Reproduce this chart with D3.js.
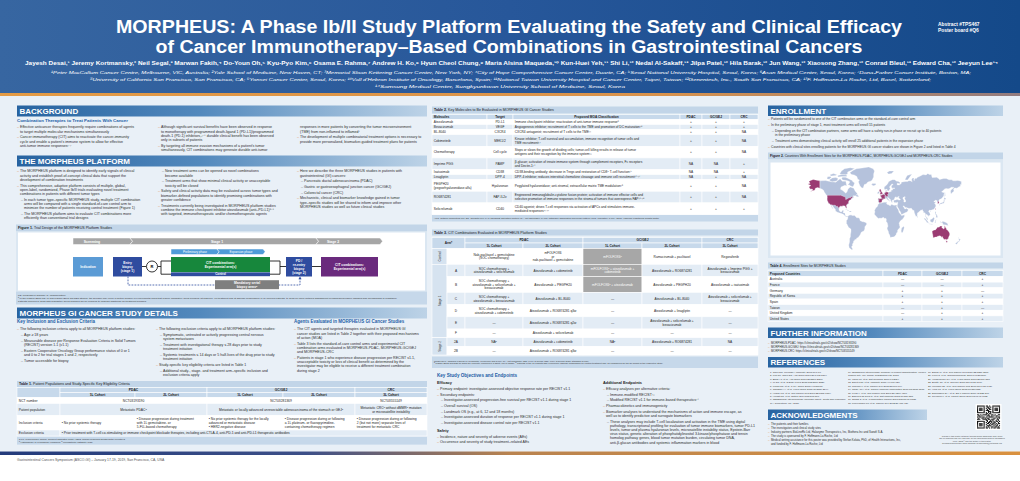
<!DOCTYPE html>
<html><head><meta charset="utf-8">
<script src="https://cdn.jsdelivr.net/npm/d3@7/dist/d3.min.js"></script>
<style>
html,body{margin:0;padding:0;background:#fff;overflow:hidden}
svg{display:block;font-family:"Liberation Sans",Arial,"DejaVu Sans",sans-serif}
</style></head><body><div id="poster"></div>
<script>
// ===================== DATA =====================
const titleLines = ["MORPHEUS: A Phase Ib/II Study Platform Evaluating the Safety and Clinical Efficacy",
  "of Cancer Immunotherapy–Based Combinations in Gastrointestinal Cancers"];
const authors = "Jayesh Desai,¹ Jeremy Kortmansky,² Neil Segal,³ Marwan Fakih,⁴ Do-Youn Oh,⁵ Kyu-Pyo Kim,⁶ Osama E. Rahma,⁷ Andrew H. Ko,⁸ Hyun Cheol Chung,⁹ Maria Alsina Maqueda,¹⁰ Kun-Huei Yeh,¹¹ Shi Li,¹² Nedal Al-Sakaff,¹³ Jilpa Patel,¹² Hila Barak,¹² Jun Wang,¹² Xiaosong Zhang,¹² Conrad Bleul,¹³ Edward Cha,¹² Jeeyun Lee¹⁴";
const affiliations = [
  "¹Peter MacCallum Cancer Centre, Melbourne, VIC, Australia; ²Yale School of Medicine, New Haven, CT; ³Memorial Sloan Kettering Cancer Center, New York, NY; ⁴City of Hope Comprehensive Cancer Center, Duarte, CA; ⁵Seoul National University Hospital, Seoul, Korea; ⁶Asan Medical Center, Seoul, Korea; ⁷Dana-Farber Cancer Institute, Boston, MA;",
  "⁸University of California San Francisco, San Francisco, CA; ⁹Yonsei Cancer Center, Seoul, Korea; ¹⁰Vall d'Hebron Institute of Oncology, Barcelona, Spain; ¹¹National Taiwan University Hospital and Cancer Center, Taipei, Taiwan; ¹²Genentech, Inc., South San Francisco, CA; ¹³F. Hoffmann-La Roche, Ltd, Basel, Switzerland;",
  "¹⁴Samsung Medical Center, Sungkyunkwan University School of Medicine, Seoul, Korea"];
const abstractInfo = ["Abstract #TPS467", "Poster board #Q6"];
const footerText = "Gastrointestinal Cancers Symposium (ASCO-GI) – January 17-19, 2019, San Francisco, CA, USA";

const sectionTitles = ["BACKGROUND","THE MORPHEUS PLATFORM","MORPHEUS GI CANCER STUDY DETAILS","ENROLLMENT","FURTHER INFORMATION","REFERENCES","ACKNOWLEDGMENTS"];
const subHeads = ["Combination Therapies to Treat Patients With Cancer","Key Inclusion and Exclusion Criteria","Agents Evaluated in MORPHEUS GI Cancer Studies","Key Study Objectives and Endpoints"];

const backgroundCols = [
 ["- Effective anticancer therapies frequently require combinations of agents",
  "  to target multiple molecular mechanisms simultaneously",
  "- Cancer immunotherapy (CIT) aims to reactivate the cancer-immunity",
  "  cycle and enable a patient's immune system to allow for effective",
  "  anti-tumor immune responses¹·²"],
 ["- Although significant survival benefits have been observed in response",
  "  to monotherapy with programmed death-ligand 1 (PD-L1)/programmed",
  "  death-1 (PD-1) inhibitors,³⁻⁶ durable clinical benefit has been observed",
  "  only in subsets of patients",
  "- By targeting all immune evasion mechanisms of a patient's tumor",
  "  simultaneously, CIT combinations may generate durable anti-tumor"],
 ["  responses in more patients by converting the tumor microenvironment",
  "  (TME) from non-inflamed to inflamed⁷",
  "- The development of multiple combinatorial treatment options is necessary to",
  "  provide more personalized, biomarker-guided treatment plans for patients"]];

const platformCols = [
 ["- The MORPHEUS platform is designed to identify early signals of clinical",
  "  activity and establish proof-of-concept clinical data that support the",
  "  development of combination treatments",
  "- This comprehensive, adaptive platform consists of multiple, global,",
  "  open-label, randomized, Phase Ib/II trials evaluating novel treatment",
  "  combinations in patients with different tumor types",
  "  - In each tumor type–specific MORPHEUS study, multiple CIT combination",
  "    arms will be compared with a single standard-of-care control arm to",
  "    minimize the number of patients receiving control treatment (Figure 1)",
  "  - The MORPHEUS platform aims to evaluate CIT combinations more",
  "    efficiently than conventional trial designs"],
 ["  - New treatment arms can be opened as novel combinations",
  "    become available",
  "  - Treatment arms that show minimal clinical activity or unacceptable",
  "    toxicity will be closed",
  "- Safety and clinical activity data may be evaluated across tumor types and",
  "  biomarker-defined populations to identify promising combinations with",
  "  greater confidence",
  "- Treatments currently being investigated in MORPHEUS platform studies",
  "  combine the immune checkpoint inhibitor atezolizumab (anti–PD-L1)⁸·⁹",
  "  with targeted, immunotherapeutic and/or chemotherapeutic agents"],
 ["- Here we describe the three MORPHEUS studies in patients with",
  "  gastrointestinal (GI) cancers:",
  "  - Pancreatic ductal adenocarcinoma (PDAC)",
  "  - Gastric or gastroesophageal junction cancer (GC/GEJ)",
  "  - Colorectal cancer (CRC)",
  "- Mechanistic, clinical and biomarker knowledge gained in tumor",
  "  type–specific studies will be shared to inform and improve other",
  "  MORPHEUS studies as well as future clinical studies"]];

const giCols = [
 ["- The following inclusion criteria apply to all MORPHEUS platform studies:",
  "  - Age ≥ 18 years",
  "  - Measurable disease per Response Evaluation Criteria in Solid Tumors",
  "    (RECIST) version 1.1 (v1.1)",
  "  - Eastern Cooperative Oncology Group performance status of 0 or 1",
  "    and 0 to 2 for trial stages 1 and 2, respectively",
  "  - Tumor accessible for biopsy"],
 ["- The following exclusion criteria apply to all MORPHEUS platform studies:",
  "  - Symptomatic, untreated or actively progressing central nervous",
  "    system metastases",
  "  - Treatment with investigational therapy ≤ 28 days prior to study",
  "    treatment initiation",
  "  - Systemic treatments ≤ 14 days or 5 half-lives of the drug prior to study",
  "    treatment initiation",
  "- Study-specific key eligibility criteria are listed in Table 1",
  "  - Additional study-, stage- and treatment arm–specific inclusion and",
  "    exclusion criteria apply"],
 ["- The CIT agents and targeted therapies evaluated in MORPHEUS GI",
  "  cancer studies are listed in Table 2 together with their proposed mechanisms",
  "  of action (MOA)",
  "- Table 3 lists the standard-of-care control arms and experimental CIT",
  "  combination arms evaluated in MORPHEUS-PDAC, MORPHEUS-GC/GEJ",
  "  and MORPHEUS-CRC",
  "- Patients in stage 1 who experience disease progression per RECIST v1.1,",
  "  unacceptable toxicity or loss of clinical benefit as determined by the",
  "  investigator may be eligible to receive a different treatment combination",
  "  during stage 2"]];

const objectivesLeft = [
  "*Efficacy",
  "- Primary endpoint: investigator-assessed objective response rate per RECIST v1.1",
  "- Secondary endpoints:",
  "  - Investigator-assessed progression-free survival per RECIST v1.1 during stage 1",
  "  - Overall survival (OS)",
  "  - Landmark OS (e.g., at 6, 12 and 18 months)",
  "  - Investigator-assessed duration of response per RECIST v1.1 during stage 1",
  "  - Investigator-assessed disease control rate per RECIST v1.1",
  "*Safety",
  "- Incidence, nature and severity of adverse events (AEs)",
  "- Occurrence and severity of study treatment–related AEs"];
const objectivesRight = [
  "*Additional Endpoints",
  "- Efficacy analyses per alternative criteria:",
  "  - Immune-modified RECIST²³",
  "  - Modified RECIST v1.1 for immune-based therapeutics²⁴",
  "- Pharmacokinetics and immunogenicity",
  "- Biomarker analyses to understand the mechanisms of action and immune escape, as",
  "  well as to identify predictive and surrogate biomarkers",
  "  - These analyses may include T-cell localization and activation in the TME using digital",
  "    pathology, transcriptional profiling for evaluation of tumor immune biomarkers, tumor PD-L1",
  "    levels, tumor and plasma hyaluronan levels, microsatellite instability status, Epstein-Barr",
  "    virus status, genetic alteration of phosphatidylinositol 3-kinase/phosphatase and tensin",
  "    homolog pathway genes, blood tumor mutation burden, circulating tumor DNA,",
  "    anti-β-glucan antibodies and systemic inflammation markers in blood"];

const enrollmentText = [
  "- Patients will be randomized to one of the CIT combination arms or the standard-of-care control arm",
  "- In the preliminary phase of stage 1, most treatment arms will enroll 15 patients",
  "  - Depending on the CIT combination partners, some arms will have a safety run-in phase or recruit up to 40 patients",
  "    in the preliminary phase",
  "  - Treatment arms demonstrating clinical activity will enroll 25 additional patients in the expansion phase",
  "- Countries with clinical sites enrolling patients for the MORPHEUS GI cancer studies are shown in Figure 2 and listed in Table 4"];
const furtherInfo = [
  "- MORPHEUS-PDAC: https://clinicaltrials.gov/ct2/show/NCT03193190",
  "- MORPHEUS-GC/GEJ: https://clinicaltrials.gov/ct2/show/NCT03281369",
  "- MORPHEUS-CRC: https://clinicaltrials.gov/ct2/show/NCT03555149"];
const references = [
 ["1.  Chen DS, Mellman I. Immunity 2013;39:1-10.",
  "2.  Kim JM, Chen DS. Ann Oncol 2016;27:1492-1504.",
  "3.  Bang YJ, et al. Ann Oncol 2017;28:2206-2213.",
  "4.  Le DT, et al. N Engl J Med 2015;372:2509-2520.",
  "5.  Fuchs CS, et al. JAMA Oncol 2018;4:e180013.",
  "6.  Janjigian YY, et al. J Clin Oncol 2018;36:2836-2844.",
  "7.  Hegde PS, et al. Clin Cancer Res 2016;22:1865-1874.",
  "8.  Herbst RS, et al. Nature 2014;515:563-567.",
  "9.  TECENTRIQ (atezolizumab) [package insert]. South San Francisco,",
  "     CA: Genentech, Inc.; 2018."],
 ["10. TECENTRIQ (atezolizumab) [summary of product characteristics]. Welwyn",
  "      Garden City, UK: Roche Registration Ltd; 2018.",
  "11. Wallin JJ, et al. Nat Commun 2016;7:12624.",
  "12. Ebert PJR, et al. Immunity 2016;44:609-621.",
  "13. Galluzzi L, et al. Cancer Cell 2015;28:690-714.",
  "14. Chan ASH, et al. Cancer Immunol Immunother 2016;65:1505-1518.",
  "15. Feng X, et al. Clin Cancer Res 2017;23:4290-4300.",
  "16. Barreira da Silva R, et al. Nat Immunol 2015;16:850-858.",
  "17. Zhang Z, et al. J Immunother Cancer 2017;5(suppl 2):P385.",
  "18. Provenzano PP, et al. Cancer Cell 2012;21:418-429."],
 ["19. Bacac M, et al. Clin Cancer Res 2016;22:3286-3297.",
  "20. Klein C, et al. Oncoimmunology 2017;6:e1277306.",
  "21. Vonderheide RH, et al. J Clin Oncol 2007;25:876-883.",
  "22. Beatty GL, et al. Science 2011;331:1612-1616.",
  "23. Wolchok JD, et al. Clin Cancer Res 2009;15:7412-7420.",
  "24. Hodi FS, et al. J Clin Oncol 2018;36:850-858.",
  "25. Eisenhauer EA, et al. Eur J Cancer 2009;45:228-247.",
  "26. Seymour L, et al. Lancet Oncol 2017;18:e143-e152."]];
const acknowledgments = [
  "- The patients and their families",
  "- The investigators and clinical study sites",
  "- Industry partners BioLineRx Ltd, Halozyme Therapeutics, Inc, Biothera Inc and Sanofi S.A.",
  "- The study is sponsored by F. Hoffmann-La Roche, Ltd",
  "- Medical writing assistance for this poster was provided by Stefan Kolata, PhD, of Health Interactions, Inc,",
  "  and funded by F. Hoffmann-La Roche, Ltd"];
const qrNote = ["Copies of this poster obtained through Quick Response (QR) Code",
  "are for personal use only and may not be reproduced without permission",
  "from ASCO® and the author of this poster.",
  "Corresponding author email address: jayesh.desai@petermac.org"];

// Figure 1
const fig1Title = ["Figure 1.", " Trial Design of the MORPHEUS Platform Studies"];
const fig1Stages = ["Screening","Stage 1","Stage 2"];
const fig1Phases = ["Preliminary phase","Expansion phase"];
const fig1Boxes = [["Indication"],["Entry","biopsy","(stage 1)"],["CIT combinations:","Experimental arm(s)"],["Control"],["PD /","re-entry","biopsy","(stage 2)"],["CIT combinations:","Experimental arm(s)"],["Mandatory serial","biopsy armsᵃ"]];
const fig1Notes = ["PD, progressive disease; R, randomization.",
  "ᵃ In the MORPHEUS-PDAC and MORPHEUS-GC/GEJ studies, the sponsor may open a limited number of experimental arms that require mandatory serial biopsies (at baseline, on treatment and at disease progression) in all enrolled patients, to allow for more detailed assessment of pharmacodynamic changes and mechanisms of resistance.",
  "Patients enrolled in arms with mandatory serial biopsies will be required to undergo additional on-treatment biopsies."];

// Table 1
const t1Title = ["Table 1.", " Patient Populations and Study-Specific Key Eligibility Criteria"];
const t1Groups = ["PDAC","GC/GEJ","CRC"];
const t1Cohorts = ["1L Cohort","2L Cohort","1L Cohort","2L Cohort","3L Cohort"];
const t1RowLabels = ["NCT number","Patient population","Inclusion criteria","Exclusion criteria"];
const t1NCT = ["NCT03193190","NCT03281369","NCT03555149"];
const t1Population = [["Metastatic PDACᵃ"],["Metastatic or locally advanced unresectable adenocarcinoma of the stomach or GEJᵃ"],["Metastatic CRCᵃ without dMMRᵇ mutation","or microsatellite instability"]];
const t1Inclusion = [["• No prior systemic therapy"],
  ["• Disease progression during treatment","   with 1L gemcitabine- or","   5-FU–based chemotherapy"],
  ["• No prior systemic therapy for the locally","   advanced or metastatic disease","• HER2-negative disease"],
  ["• Disease progression during or following","   a 1L platinum- or fluoropyrimidine-","   containing chemotherapy regimen"],
  ["• Disease progression during or following","   2 (but not more) separate lines of","   treatment for metastatic CRC"]];
const t1Exclusion = ["• Prior treatment with T-cell co-stimulating or immune checkpoint blockade therapies, including anti-CTLA-4, anti-PD-1 and anti-PD-L1 therapeutic antibodies"];
const t1Notes = ["5-FU, 5-fluorouracil; dMMR, deficient mismatch repair; HER2, human epidermal growth factor receptor 2.","ᵃ Histologically or cytologically confirmed. ᵇ Microsatellite instability–high."];

// Table 2
const t2Title = ["Table 2.", " Key Molecules to Be Evaluated in MORPHEUS GI Cancer Studies"];
const t2Headers = ["Molecules","Target","Proposed MOA Classification","PDAC","GC/GEJ","CRC"];
const t2Molecules = [["Atezolizumab"],["Bevacizumab"],["BL-8040"],["Cobimetinib"],["Chemotherapy"],["Imprime PGG"],["Isatuximab"],["Linagliptin"],["PEGPH20","(pegvorhyaluronidase alfa)"],["RO6874281"],["Selicrelumab"]];
const t2Targets = ["PD-L1","VEGF","CXCR4","MEK1/2","Cell cycle","PAMP","CD38","DPP-4","Hyaluronan","FAP-IL2v","CD40"];
const t2MOA = [
  ["Immune checkpoint inhibitor; reactivation of anti-tumor immune response⁸"],
  ["Angiogenesis inhibitor; recruitment of T cells to the TME and promotion of DC maturation¹⁰"],
  ["CXCR4 antagonist; recruitment of T cells to the TME¹¹"],
  ["Kinase inhibitor; T-cell survival and accumulation, immune recognition of tumor cells and","TME recruitment¹²"],
  ["Stops or slows the growth of dividing cells; tumor-cell killing results in release of tumor","antigens and their recognition by the immune system¹³"],
  ["β-glucan; activation of innate immune system through complement receptors, Fc receptors","and Dectin-1¹⁴"],
  ["CD38-binding antibody; decrease in Tregs and restoration of CD8⁺ T-cell function¹⁵"],
  ["DPP-4 inhibitor; reduces interstitial chemokine cleavage and immune cell recruitment¹⁶·¹⁷"],
  ["Pegylated hyaluronidase; anti-stromal, extracellular matrix TME modulation¹⁸"],
  ["Engineered immunoglobulin-cytokine fusion protein; activation of immune effector cells and","selective promotion of immune responses in the stroma of tumors that overexpress FAP¹⁹·²⁰"],
  ["CD40 agonist; drives T-cell responses via activation of APCs and stimulates immune-","mediated responses²¹·²²"]];
const t2PDAC = ["+","+","+","+","+","NA","NA","NA","+","+","+"];
const t2GC   = ["+","+","+","+","+","NA","NA","+","+","+","+"];
const t2CRC  = ["+","+","NA","NA","NA","+","+","NA","NA","NA","+"];
const t2Notes = ["APC, antigen-presenting cell; DC, dendritic cell; FAP, fibroblast activation protein; NA, not applicable; PAMP, pathogen-associated molecular pattern; Treg, regulatory T cell; VEGF, vascular endothelial growth factor."];

// Table 3
const t3Title = ["Table 3.", " CIT Combinations Evaluated in MORPHEUS Platform Studies"];
const t3Arms  = ["Control","A","B","C","D","E","F","2A","2B"];
const t3Stage = ["Control","Stage 1","Stage 1","Stage 1","Stage 1","Stage 1","Stage 1","Stage 2","Stage 2"];
const t3PDAC1L = [["Nab-paclitaxel + gemcitabine","(SOC chemotherapy)"],["SOC chemotherapy +","atezolizumab + selicrelumab"],["SOC chemotherapy +","atezolizumab + selicrelumab +","bevacizumab"],["SOC chemotherapy +","atezolizumab + bevacizumab"],["SOC chemotherapy +","atezolizumab + cobimetinib"],["—"],["—"],["NAᵇ"],["—"]];
const t3PDAC2L = [["mFOLFOX6","or","nab-paclitaxel + gemcitabine"],["Atezolizumab + cobimetinib"],["Atezolizumab + PEGPH20"],["Atezolizumab + BL-8040"],["Atezolizumab + RO6874281 q3w"],["Atezolizumab + RO6874281 q2w"],["Atezolizumab + selicrelumab"],["Atezolizumab + cobimetinib"],["Atezolizumab + RO6874281 q3w"]];
const t3GC1L = [["mFOLFOX6ᵃ"],["mFOLFOX6ᵃ + atezolizumab +","cobimetinib"],["mFOLFOX6ᵃ + atezolizumab"],["—"],["—"],["—"],["—"],["NAᵇ"],["—"]];
const t3GC2L = [["Ramucirumab + paclitaxel"],["Atezolizumab + RO6874281"],["Atezolizumab + PEGPH20"],["Atezolizumab + BL-8040"],["Atezolizumab + linagliptin"],["Atezolizumab + selicrelumab +","bevacizumab"],["—"],["Atezolizumab + RO6874281"],["—"]];
const t3CRC3L = [["Regorafenib"],["Atezolizumab + Imprime PGG +","bevacizumab"],["Atezolizumab + isatuximab"],["Atezolizumab + selicrelumab +","bevacizumab"],["—"],["—"],["—"],["NA"],["—"]];
const t3Notes = ["mFOLFOX6, modified FOLFOX6 (oxaliplatin, leucovorin and 5-FU); NA, not applicable; q2w, every 2 weeks; q3w, every 3 weeks; SOC, standard of care.",
  "ᵃ MORPHEUS-GC/GEJ 1L arms are currently enrolling in a safety run-in phase. ᵇ Patients in the 1L cohorts who experience disease progression on control treatment may be considered for the 2L cohort of the respective study."];

// Table 4 (countries with enrollment sites)
const t4Title = ["Table 4.", " Enrollment Sites for MORPHEUS Studies"];
const t4Headers = ["Proposed Countries","PDAC","GC/GEJ","CRC"];
const t4Countries = ["Australia","France","Germany","Republic of Korea","Spain","Taiwan","United Kingdom","United States"];
const t4PDAC = ["—","—","+","+","+","—","—","+"];
const t4GC   = ["—","—","+","+","+","+","+","+"];
const t4CRC  = ["+","+","—","+","+","—","+","+"];
const fig2Title = ["Figure 2.", " Countries With Enrollment Sites for the MORPHEUS-PDAC, MORPHEUS-GC/GEJ and MORPHEUS-CRC Studies"];

// Simplified land outlines [lon,lat,...]
const landShapes = [
 {country:"Canada/Mexico", pts:[-141,69.6,-128,70,-115,68.5,-105,68,-95,72,-90,69,-82,69,-80,63,-84,64,-93,61.5,-94,58.5,-89,56.5,-82,52.5,-79,55,-77,59,-72,61.5,-64,60,-61,56,-56,52,-59,48,-65,48.5,-64,45.5,-66,44.5,-70,42,-74,40.5,-76,37,-75.5,35,-81,31,-80,26,-81.5,25,-83,29,-85,30,-89,30,-94,29.5,-97,27.5,-97.5,22,-95,18.5,-91,18.5,-90.5,21,-87,21.5,-88,16,-84,15.8,-83.5,11,-81.5,8.8,-78,9.3,-77.5,7.5,-80,7.5,-84,9.5,-86,11.5,-88,13.2,-92,14.5,-96,15.7,-101,17.2,-105.5,20,-105.5,23,-109.5,27,-112.5,31,-114.5,31,-110.5,24,-109.5,23,-112,25,-115,28.5,-114.5,30,-117,32.5,-120.5,34.5,-122.5,37.5,-124,40.5,-124.5,43,-124,48,-127,50.5,-130.5,54,-133,57.5,-137,59,-141,60]},
 {country:"United States", pts:[-141,69.6,-148,70.3,-156,71.3,-162,70,-166,68.8,-163,66.5,-168,65.6,-164,64.5,-161,63.5,-165,62.5,-165,60.5,-162,58.6,-158,58.7,-157,57,-163,55,-158,56,-152,57.5,-151,60,-146,60.8,-141,60]},
 {country:"United States", pts:[-124.7,48.4,-123,49,-95,49,-95,49.4,-89.5,48,-84.8,46.5,-82.5,45.3,-82.5,42,-79,42.8,-79,43.3,-76.5,44,-75,45,-71.5,45,-70,46.8,-67.8,47.1,-67,44.8,-70,43.7,-70.6,41.7,-74,40.5,-76,38,-76,36.9,-75.5,35.2,-77,34.6,-81,31.6,-80,26.7,-80.4,25.2,-81.7,25.9,-82.8,28.2,-84.3,30,-86.5,30.4,-89.6,30.2,-90,29.1,-93.7,29.7,-97,28,-97.2,25.9,-99.2,26.5,-101.4,29.8,-103.2,29,-104.7,29.9,-106.5,31.8,-108.2,31.3,-111,31.3,-114.8,32.5,-117.1,32.5,-118.5,34,-120.6,34.6,-121.9,36.6,-122.5,37.8,-124,40.3,-124.4,42.8,-124,46.2]},
 {country:"Greenland", pts:[-73,78.3,-66,80.5,-58,82,-45,82.7,-30,83.6,-20,82,-17,80,-19,77,-19,74,-22,71,-24.5,69.5,-32,68.2,-36,65.8,-40,65,-43,60,-47,61,-50,63.5,-52,66,-53.5,68.5,-51,70.5,-55,71.5,-57,74.5,-63,76.2,-69,76.5]},
 {country:"Canada", pts:[-62,66.8,-64.5,63.5,-66,62,-71,63,-74,64.5,-77.5,64.5,-74,67,-73,68.5,-76.5,69.5,-80,70,-89,70.5,-91.5,72,-90,73.7,-83,73.7,-78,72.7,-71.5,71,-68,70.2,-67,69]},
 {country:"Canada", pts:[-90,76.5,-96,77,-92,80,-85,82,-72,83,-62,82.2,-70,80.5,-78,79,-78,77.2,-82,76.3]},
 {country:"Canada", pts:[-119,71,-113,73,-105,73.3,-100,72.5,-101,70,-106,69,-113,68.5,-118,69.3]},
 {country:"Canada", pts:[-125,72,-123.5,74.3,-117,74.5,-115,73.4,-120,71.4]},
 {country:"Canada", pts:[-100,74,-91,74.5,-80,74.5,-80,76,-91,76.7,-100,75.5]},
 {country:"Canada", pts:[-116,75,-105,75.5,-102,76.3,-110,77.5,-118,76.3]},
 {country:"Canada", pts:[-59,47.6,-55.7,46.9,-53,46.7,-52.8,48,-55.8,49.7,-55.4,51.5,-57.3,50.7,-59.4,48.5]},
 {country:"Cuba", pts:[-85,21.8,-82,23.1,-80,23,-77,21.5,-74.2,20.2,-77.5,19.9,-78.5,21.4,-81.5,22.2]},
 {country:"Hispaniola", pts:[-74.4,19.8,-71.5,19.9,-68.4,18.6,-71.3,17.7,-74.4,18.4]},
 {country:"South America", pts:[-77.3,8.5,-75.5,10.6,-72,11.9,-71.3,11.1,-70,12.2,-68.1,10.5,-64,10.6,-61.7,10.5,-60,8.5,-57.5,6,-53,5.6,-51,4,-50,1.8,-49.8,-0.2,-48,-0.8,-44,-2.4,-41.7,-2.9,-38.5,-3.7,-35,-5.5,-35,-8.5,-37,-11,-38.9,-13.4,-39,-17.6,-40,-20,-41,-22,-44,-23,-47.5,-24.8,-48.7,-28.2,-50.7,-31,-53,-33.8,-55,-35,-57.5,-35.5,-57.3,-37.5,-62,-38.9,-62.3,-40.6,-65,-41,-64,-42.5,-65.5,-45,-67.6,-46.5,-66,-47.8,-69,-50.7,-68.3,-52.3,-66,-54.8,-69,-55.4,-71.5,-54,-74.5,-52.5,-75.5,-48,-74,-44,-73.5,-41,-73.6,-37,-71.6,-33,-71.5,-29,-70.4,-23.5,-70.2,-18.5,-72,-17,-76,-14.3,-78,-10.5,-79.5,-7.5,-81.2,-5.6,-80.3,-3.5,-80.8,-1,-80,0.8,-78.8,1.4,-77.8,3.8,-77.4,6.5]},
 {country:"Iceland", pts:[-24,65.4,-21.7,66.3,-18,66.2,-14.6,66.4,-13.6,65.1,-14.9,64.4,-18.7,63.4,-22.8,63.9,-21.8,64.4,-24,64.9]},
 {country:"Ireland", pts:[-10,51.6,-6.4,52.2,-6,53.9,-7.3,55.2,-8.5,54.9,-10,54.2,-9.9,53.3,-10.5,52.1]},
 {country:"Eurasia", pts:[-9,38.8,-9.4,43,-8,43.7,-1.8,43.4,-1.2,46,-2.3,47.2,-4.6,48,-1.5,49.7,1.6,50.3,3.5,51.3,4.8,53,7,53.5,8.7,53.9,8.3,55.6,8.1,57,10.5,57.6,10.6,56.4,9.8,55,11,54,14,54,18,54.7,21,55.2,21,56.8,21.8,57.5,24.3,57.2,23.5,59.2,28,59.5,29.5,60.1,26.5,60.4,22.8,60,21.5,61.5,21.2,63,24,64.5,25.3,65.3,22.2,65.8,21.2,64.8,19,63.5,17.5,62.2,17.2,61,18.8,60,16.5,57,14.5,56,12.8,55.5,12.5,56.5,11,58.8,8.5,58.2,6,58.2,5,59.5,5.2,61.5,7,62.8,10.5,64.4,12.8,66,15,68.5,18.5,69.8,23.8,71,28.5,71,31,70,33.3,69.2,36.5,69,41,67.5,40.5,66,35,66.5,33.8,66,35,64.4,37.5,64.5,40,64.6,44,66.5,43.8,68.3,46,68.2,53.5,68.8,58,68.9,61,69.8,66,69.4,68.5,68.2,67,71,69,72.8,72.6,72.8,72,71.2,73,69.7,73.6,71.5,75,72.6,78,72.2,80.5,73.6,87,75,93,76.5,100,76.2,104,77.7,107,76.7,112,76.5,113.5,73.5,118,73.5,124,73.6,129,72,131,70.8,133,71.5,140,72.4,146,72.3,152,70.8,159,70.8,160.5,69.7,167,69.6,170.6,70.1,175,69.8,180,68.9,180,65.1,177,64.6,178.6,62.9,173.7,61.7,170,60,166,60.2,163.5,59.8,162,58,163.2,56.2,162,54.8,160.5,53.8,158.5,53,156.5,51,155.8,53.5,155.5,55.9,156.8,57.8,158.3,58,161.8,60.4,163.7,61.1,160.1,61.3,156.7,61.4,154.2,59.8,151,59.1,148.5,59.3,145.5,59.4,142.2,59,138,56.3,135.1,54.7,137,54,138.9,53.8,141.4,52.2,140.6,51.2,140.1,48.4,138.2,46.3,135.1,43.5,133.1,42.8,131,42.6,129.7,40.9,129.3,40,128,39,129.4,37,129.4,35.5,127.5,34.6,126.4,34.4,126.5,36,126.2,37.5,125.3,37.7,124.7,38.1,125.2,39.5,124.3,40,122,40.5,121.4,39,121.7,40.8,120,40,119,39.2,118,39.2,117.5,38.6,118.8,37.5,119.7,37.2,120.8,37.8,122.5,37.4,121,36.6,119.7,35.6,119.2,34.9,120.6,33.4,121.9,31.7,121.9,30.9,122,29.8,121.5,28.5,120.4,27,119.6,25.8,118.7,24.6,116.5,23,113.8,22.5,112.9,21.9,111,21.5,110.2,20.1,109.9,21.4,108.5,21.7,106.7,20.7,105.9,19.8,105.7,19.1,106.4,18,107.4,16.7,108.3,15.8,109.2,13.4,109.2,11.7,108.4,11,107.2,10.4,106.4,9.5,105.2,8.6,104.8,9.7,105,10.5,103.5,10.6,102.6,12.2,100.8,12.6,100.1,13.4,99.2,11.3,99.6,9.3,100.5,7.4,101.6,6.7,103.4,4.8,103.5,2.8,104.2,1.4,103.5,1.2,101.4,2.8,100.1,6.5,98.5,8.4,98.3,10.5,98.6,13.3,97.6,16.5,96.5,16.4,95.4,15.7,94.2,16,94.4,18.2,93.5,19.4,92.4,20.7,92,22,91.4,22.8,90.3,21.8,88.9,21.6,88.1,22,86.5,20,85,19.5,82.2,16.6,80.3,15.9,79.9,10.3,78.9,9.6,77.5,8,76.6,8.9,75.7,11.3,74.9,12.7,74.1,14.8,73.5,16,72.8,19.2,72.6,21.4,70.5,20.9,69.2,22.1,68.2,23.7,66.4,25.4,64.5,25.2,61.5,25.1,57.4,25.7,56.5,27.1,54.7,26.5,51.5,27.9,50.1,30.1,48,30,48.6,28,50.1,26.7,50.8,24.8,51.6,24.2,54,24.1,56,26.1,56.4,24.9,57.4,23.9,59.8,22.3,58.7,20.4,57.7,19,55.3,17.2,52.4,16.4,49.1,14.6,45.6,13.3,43.5,12.6,42.6,16.8,40.9,19.5,39.1,21.3,38.5,23.7,36.9,25.6,35.1,28.1,34.6,28.1,34.9,29.5,34.3,31.2,34.6,32,35.5,33.9,35.9,35.4,36,36.6,34.7,36.8,32.5,36.1,30.6,36.7,29.7,36.1,27.6,36.7,27,37.7,26.3,38.2,26.8,39.5,26.2,40,26.4,40.2,29.2,41.2,31.1,41.1,33.5,42,35.2,42,38.3,40.9,40.4,41,41.6,41.5,41.5,42.6,40,43.4,38.7,44.3,37.5,44.7,38.2,46.2,39.1,47.3,37.4,47,35,46.3,35,45.7,33.9,44.4,32.5,45.3,33.6,45.9,31.7,46.3,30.7,46.6,29.6,45.3,28.8,44.9,28.6,43.7,28,42.9,28,42,26.1,41.3,26.1,40.6,24.4,40.9,23.7,40.7,24,40,22.6,40.3,22.8,39.7,23.3,39.2,22.9,38,23.5,38,24,37.6,23.1,36.4,22.5,36.4,21.7,36.8,21.1,37.8,21.1,38.3,20.2,39.3,19.4,40.3,19.5,41.7,18.5,42.5,17.5,43,16,43.5,15.2,44.2,14.9,45.1,13.7,45.1,13.7,45.7,12.6,45.5,12.3,44.6,13.5,43.6,14,42.8,15.1,42,16.1,41.7,16.4,41.2,18.4,40.2,18.3,39.8,17.2,40.4,16.7,39.9,17.1,39,16.6,38.8,16.1,38,15.7,37.9,15.8,38.8,16.1,39.5,15.4,40,15,40.2,14,40.8,12.6,41.4,11.2,42.4,10.2,43.9,8.9,44.4,7.9,43.8,6.5,43.1,4.6,43.4,3.1,43.1,3,41.9,2.1,41.2,0.8,41,0.7,40.7,0,40,-0.3,39.3,0.1,38.7,-0.7,37.6,-1.4,37.4,-2.1,36.7,-4.4,36.7,-5.4,35.9,-6.2,36.4,-6.5,36.9,-7.5,37.1,-7.9,36.8,-8.9,36.9,-8.7,38.2]},
 {country:"Caspian Sea", water:true, pts:[46.7,44.6,47.6,45.6,49.1,46.4,51.2,47,53,46.8,53.2,45.3,51.3,45.2,50.9,44.6,52.7,42.4,52.9,41,54,40.8,53.7,39.4,53.9,37.2,51.2,36.8,50,37.4,48.9,38.4,49.2,39.1,49.6,40.2,48.6,41.8,47.5,43]},
 {country:"Africa", pts:[-5.9,35.8,-5.2,35.8,-2,35.1,1.5,36.6,5,36.8,8.4,36.9,10.2,37.2,11.1,36.9,10.3,36.1,11,35.6,10.1,34.3,11.1,33.3,12.7,32.8,15.2,32.3,15.7,31.4,18,30.8,19.1,30.3,20.1,31,20,32.2,21.5,32.8,23,32.6,25,31.6,27.5,31.3,29.7,31.2,31,31.6,32.2,31.3,34.2,31.3,34.9,29.5,34,27.8,33.6,28,32.4,29.9,32.7,28.7,33.9,26.6,35.7,23.9,37.5,22,37.4,20.8,38.4,18,39.3,15.9,40.6,14.6,41.9,13.5,43.3,12.4,43.1,11.5,44.6,10.4,47.7,11.1,51.1,11.9,51,10.6,50.6,8.2,48.6,5.3,46.6,2.9,43.1,0.3,41,-1.8,39.2,-4.7,38.7,-6.5,39.4,-8.1,39.5,-10.9,40.5,-10.8,40.6,-15.4,37.4,-17.6,35.2,-21,35.5,-24.1,32.8,-25.7,32.4,-28.6,30.8,-30.4,27.5,-33.2,25,-33.9,22.6,-33.9,19.6,-34.8,18.2,-33.9,18.4,-32.1,17.1,-29.4,15.3,-26.9,14.4,-22.7,11.8,-18.1,11.7,-16.7,12.2,-14.4,13.6,-12,13.1,-9.8,12.3,-6.1,11.9,-5,9.4,-2,9.8,2.3,9.8,3.1,8.5,4.8,5.9,4.3,4.3,6.3,1.9,6.1,-1.1,5,-3,5,-4.6,5.2,-7.5,4.3,-9,5,-11.4,6.8,-13.2,8.9,-14.8,10.7,-16.6,12.2,-17.2,14.9,-16.1,18.1,-16.3,19.6,-17,21,-15,24.5,-13.9,26.6,-11.4,28.1,-9.8,29.9,-9.3,32.6,-6.9,34.1]},
 {country:"Madagascar", pts:[44,-25,47,-25,50.5,-15.5,49.2,-12,44.5,-16,43.5,-21.5]},
 {country:"Svalbard", pts:[11,78.5,17,80,27,80,22,77.5,15,77]},
 {country:"Russia", pts:[52,71,57,75.5,68,77,58,70.5]},
 {country:"Russia", pts:[142,46,143.5,49,143,54,142,54,142,49]},
 {country:"Japan", pts:[130.9,34,132.5,35.4,136,35.9,139.8,38,140,40.5,141.5,41.3,142,39.5,141,37,140.8,35.6,139.8,35,137,34.5,135,33.5,132,33.7]},
 {country:"Japan", pts:[140,42,141.5,45.4,145.5,43.3,143,42]},
 {country:"Japan", pts:[130,31.5,131.5,31.5,132,33.7,130.5,34]},
 {country:"Sri Lanka", pts:[79.8,8,80,9.8,81.8,7.5,80.5,6]},
 {country:"Hainan", pts:[108.6,19.2,110.3,20.1,111,19.6,109.6,18.2]},
 {country:"Indonesia", pts:[95.3,5.5,98,4,104,-2,106,-6,102,-4,99,0,95.5,3]},
 {country:"Indonesia", pts:[109,1.5,110,-2.5,114,-4,116.5,-2.5,118,1,119,5,117,7,115,5,113,3]},
 {country:"Indonesia", pts:[105.5,-6.8,114.5,-7.5,114.5,-8.7,106,-7.5]},
 {country:"Indonesia", pts:[119.5,-5.5,121,-1,120.5,1,125,1.5,121.5,0.3,123,-1,121,-3,122.5,-5]},
 {country:"New Guinea", pts:[131,-1,135,-3.5,138,-1.5,144,-3.8,148,-6,150.5,-10.5,147,-10,143,-9,141,-9.2,138,-8.3,137.5,-5,133,-4,132,-2.5]},
 {country:"Philippines", pts:[120,18.5,122.5,18.3,122,14,124,12.5,126,9,125.5,6,122,7,123,10,120.5,14.5]},
 {country:"New Zealand", pts:[172.7,-34.4,174.3,-35.3,175.3,-37.2,178,-37.6,177,-39.3,176,-41.3,174.6,-41.3,175,-39.7,173.9,-39.2,174.6,-37.6]},
 {country:"New Zealand", pts:[172.8,-40.5,174.3,-41.7,173.2,-43,171.3,-44.1,170.6,-45.9,169.3,-46.6,166.6,-46.2,166.7,-45.1,168.3,-44.1,170.6,-42.9,171.6,-41.8]},
 {country:"United Kingdom", pts:[-5.7,50.1,-3.4,50.6,-0.8,50.8,1.4,51.2,1.7,52.7,0.3,53.4,-0.4,54.5,-1.5,55.5,-2.1,56,-1.8,57.5,-3.1,58.6,-5,58.6,-5.7,57.6,-6.2,56.8,-5.6,55.3,-4.8,54.9,-3.6,54.6,-3,53.8,-4.6,53.3,-4.4,52.2,-5.3,51.7,-3.4,51.4]},
 {country:"France", pts:[-1.8,43.4,1.4,42.6,3.1,42.4,3.1,43.1,4.6,43.4,6.5,43.1,7.5,43.8,7,44.3,7,45.2,6.8,46,6.1,46.3,7,47.4,7.6,47.6,8.2,48.9,6.7,49.2,6.2,49.5,4.8,50,4.3,49.9,2.5,51.1,1.6,50.9,1.4,50.1,0.2,49.7,-1.2,49.4,-1.9,49.7,-1.9,48.7,-4.6,48.7,-4.3,47.8,-2.2,47.1,-1.2,46,-1.4,44.6]},
 {country:"Spain", pts:[-9.3,43,-8,43.7,-4.3,43.4,-1.8,43.4,-0.5,42.8,1.5,42.6,3.2,42.4,3.2,41.9,0.8,41,0,40,0.1,38.7,-0.7,37.6,-2.1,36.7,-4.4,36.7,-5.4,35.9,-6.5,36.9,-7.5,37.2,-7.4,38.4,-7.1,39.7,-6.9,41,-6.2,41.6,-8.2,41.9,-8.9,42.3]},
 {country:"Germany", pts:[6,51.9,6.7,53.5,8.7,53.9,8.6,55,9.9,54.8,11,54.1,13.4,54.3,14.3,53.7,14.6,52.6,15,51.1,12.2,50.3,13.6,48.9,13,47.5,10.4,47.3,7.6,47.6,8.2,48.9,6.4,49.5,6.1,50.8]},
 {country:"Republic of Korea", pts:[126.4,34.4,127.5,34.6,129.4,35.5,129.4,37,128.4,38.6,127.2,38.3,126.1,37.7,126.5,36]},
 {country:"Taiwan", pts:[120.1,23,120.7,22,121.9,24.6,121.5,25.3,120.4,24.4]},
 {country:"Australia", pts:[113.5,-22,114.1,-26.3,115,-29,115.7,-33.5,115,-34.3,117.9,-35.1,120,-33.9,123.5,-33.9,125.1,-32.7,129,-31.7,131.3,-31.5,134.3,-32.6,135.2,-34.5,137.8,-32.9,137.5,-34.5,138.7,-35.5,139.6,-37.4,141.6,-38.3,144.9,-37.9,146.3,-39,148.3,-37.8,150,-37.5,151,-34.2,153.1,-30.4,153.6,-28.1,153.1,-25.7,150.7,-22.4,149,-20.6,146.4,-19,145.4,-15.8,143.9,-14.5,142.5,-10.7,141.6,-12.8,141.7,-15,140.6,-17.6,139.3,-17.4,137,-15.9,135.5,-14.9,136.9,-12.2,136.3,-11.9,132.6,-11.6,130.9,-12.5,129.4,-14.4,127,-13.8,125.1,-14.7,123.5,-17.3,122.2,-18.2,121.3,-19.7,119,-20,117,-20.6,114.6,-21.8]},
 {country:"Australia", pts:[144.7,-40.7,148.3,-40.9,148,-43.2,146.9,-43.6,145.5,-42.6]}
];

// QR module rows (decorative code)
const qrRows = ["111111101101001111111","100000100110101000001","101110101011001011101","101110100101101011101","101110101110001011101","100000100011101000001","111111101010101111111","000000001101100000000","110101111010011010011","011010000111010101100","101101101001111001011","010011010110000110101","111001111011011100110","000000001100101001010","111111100101110101101","100000101011010110010","101110100110101101011","101110101001011010100","101110100111100101101","100000101010011011010","111111101101010110111"];

// ===================== DRAWING =====================
const W = 1020, H = 481;
const svg = d3.select("#poster").append("svg").attr("width", W).attr("height", H);
const defs = svg.append("defs");
function grad(id, stops) {
  const g = defs.append("linearGradient").attr("id", id).attr("x1", 0).attr("y1", 0).attr("x2", 1).attr("y2", 0);
  stops.forEach(([o, c]) => g.append("stop").attr("offset", o).attr("stop-color", c));
}
grad("hdr", [[0, "#3766a1"], [0.5, "#27579a"], [1, "#144989"]]);
grad("orange", [[0, "#e49b45"], [0.65, "#d8924c"], [1, "#927c80"]]);
grad("sec", [[0, "#2763a0"], [0.45, "#5389bd"], [1, "#bdd3e7"]]);
grad("foot", [[0, "#233b7b"], [0.3, "#3c4f88"], [0.5, "#b9834f"], [1, "#d9913f"]]);

function fit(sel, maxW) {
  sel.each(function () {
    if (maxW > 0 && this.getComputedTextLength() > maxW)
      d3.select(this).attr("textLength", maxW).attr("lengthAdjust", "spacingAndGlyphs");
  });
  return sel;
}
function edges(w, a, b) {
  const c = [0, ...d3.cumsum(w)];
  const s = d3.scaleLinear().domain([0, c[c.length - 1]]).range([a, b]);
  return c.map(s);
}

// backgrounds
svg.append("rect").attr("width", W).attr("height", H).attr("fill", "#ffffff");
svg.append("rect").attr("width", W).attr("height", 93).attr("fill", "url(#hdr)");
svg.append("rect").attr("y", 93).attr("width", W).attr("height", 3).attr("fill", "url(#orange)");
svg.append("rect").attr("y", 96).attr("width", W).attr("height", 355.5).attr("fill", "#e9f0f7");
svg.append("rect").attr("y", 451.5).attr("width", W).attr("height", 3.5).attr("fill", "url(#foot)");

// header
const hdr = svg.append("g").attr("fill", "#fff");
hdr.selectAll("text.title").data(titleLines).join("text").attr("class", "title")
  .attr("x", 509).attr("y", (d, i) => 33.3 + i * 20).attr("text-anchor", "middle")
  .attr("font-size", 18).attr("font-weight", "bold")
  .attr("textLength", (d, i) => [786, 707][i]).attr("lengthAdjust", "spacingAndGlyphs").text(d => d);
hdr.append("text").attr("x", 511.5).attr("y", 65.3).attr("text-anchor", "middle").attr("font-size", 5.1)
  .attr("font-weight", "bold").attr("textLength", 973).attr("lengthAdjust", "spacingAndGlyphs").text(authors);
hdr.selectAll("text.aff").data(affiliations).join("text").attr("class", "aff")
  .attr("x", (d, i) => [511, 510.5, 500][i]).attr("y", (d, i) => 73.6 + i * 7.3).attr("text-anchor", "middle")
  .attr("font-size", 4.3).attr("font-style", "italic")
  .attr("textLength", (d, i) => [920, 841, 250][i]).attr("lengthAdjust", "spacingAndGlyphs").text(d => d);
hdr.selectAll("text.abs").data(abstractInfo).join("text").attr("class", "abs")
  .attr("x", 938).attr("y", (d, i) => 25.5 + i * 6.6).attr("font-size", 4.9).attr("font-weight", "bold").text(d => d);

// footer
svg.append("text").attr("x", 17).attr("y", 461.2).attr("font-size", 3.4).attr("fill", "#555").text(footerText);

// section bars
const secLayout = [[17, 105.5, 410, 11], [17, 155.5, 410, 11], [17, 307.5, 410, 11], [768, 105.5, 235, 10.5], [768, 327.5, 235, 10.5], [768, 357, 235, 10.5], [768, 409.5, 159, 10.5]];
sectionTitles.forEach((label, i) => {
  const [x, y, w, h] = secLayout[i];
  svg.append("rect").attr("x", x).attr("y", y).attr("width", w).attr("height", h).attr("fill", "url(#sec)");
  svg.append("text").attr("x", x + 2.5).attr("y", y + (h + 8 * 0.716) / 2).attr("font-size", 8)
    .attr("font-weight", "bold").attr("fill", "#fff").text(label);
});

// sub headings
const subLayout = [[17, 122.3, 4.4], [17, 323.3, 4.5], [294, 323.3, 4.5], [437, 376.8, 4.6]];
subHeads.forEach((s, i) => {
  const [x, y, fs] = subLayout[i];
  svg.append("text").attr("x", x).attr("y", y).attr("font-size", fs).attr("font-weight", "bold").attr("fill", "#1d5ea6").text(s);
});

// bullet text blocks
function block(x, y, lines, o) {
  const size = o.size || 3.6, lh = o.lh || 4.3, gap = o.gap ?? 1.4, width = o.width || 130, ind = 4, bx = 3;
  const g = svg.append("g");
  let cy = y, first = true;
  lines.forEach(s => {
    const m = s.match(/^( *)(- )?(.*)$/);
    const sp = m[1].length, bul = !!m[2], txt = m[3];
    if (txt.startsWith("*")) {
      if (!first) cy += (o.hgap ?? 3);
      g.append("text").attr("x", x).attr("y", cy).attr("font-size", size * 1.08).attr("font-weight", "bold").attr("fill", "#1a1a1a").text(txt.slice(1));
      cy += lh; first = false; return;
    }
    if (bul && !first) cy += gap;
    const lvl = bul ? sp / 2 : Math.max(0, sp / 2 - 1);
    const tx = (sp === 0 && !bul) ? x : x + lvl * ind + bx;
    if (bul) g.append("text").attr("x", x + lvl * ind).attr("y", cy).attr("font-size", size)
      .attr("fill", lvl === 0 ? "#de8a35" : "#6b6b6b").text("–");
    fit(g.append("text").attr("x", tx).attr("y", cy).attr("font-size", size).attr("fill", "#2b2b2b").text(txt), x + width - tx);
    cy += lh; first = false;
  });
}
const colX = [17, 158, 297];
backgroundCols.forEach((c, i) => block(colX[i], 128.3, c, { width: [128, 132, 130][i] }));
platformCols.forEach((c, i) => block(colX[i], 172.2, c, { width: [128, 132, 130][i] }));
const giX = [17, 156, 294];
giCols.forEach((c, i) => block(giX[i], 330.2, c, { width: [132, 134, 133][i], lh: 4.3, gap: 1.4 }));
block(437, 384.2, objectivesLeft, { width: 160, lh: 4.2, gap: 1.5, hgap: 3.5 });
block(603, 384.2, objectivesRight, { width: 155, lh: 4.2, gap: 1.5 });
block(768, 120.2, enrollmentText, { width: 235, size: 3.3, lh: 4.3, gap: 1.5 });
block(768, 343.5, furtherInfo, { width: 150, size: 2.8, lh: 4, gap: 0 });
block(768, 424.5, acknowledgments, { width: 165, size: 2.8, lh: 4.1, gap: 0 });

// references
const refX = [770, 848, 928], refW = [76, 78, 74];
references.forEach((col, i) => {
  svg.append("g").selectAll("text").data(col).join("text")
    .attr("x", refX[i]).attr("y", (d, j) => 372.8 + j * 3.45).attr("font-size", 2.45).attr("fill", "#333")
    .text(d => d).call(fit, refW[i]);
});

// strips and notes
function strip(x0, x1, y0, y1, parts, size) {
  svg.append("rect").attr("x", x0).attr("y", y0).attr("width", x1 - x0).attr("height", y1 - y0).attr("fill", "#c2d5e8");
  const t = svg.append("text").attr("x", x0 + 2).attr("y", (y0 + y1) / 2 + size * 0.36).attr("font-size", size).attr("fill", "#1c1c1c");
  parts.forEach((s, i) => t.append("tspan").attr("font-weight", i === 0 ? "bold" : null).text(s));
  fit(t, x1 - x0 - 4);
}
function notes(x0, x1, y0, y1, lines, size) {
  svg.append("rect").attr("x", x0).attr("y", y0).attr("width", x1 - x0).attr("height", y1 - y0).attr("fill", "#c6d8ea");
  const lh = size * 1.25, n = lines.length, cy = (y0 + y1) / 2;
  lines.forEach((L, i) => fit(svg.append("text").attr("x", x0 + 2).attr("y", cy + (i - (n - 1) / 2) * lh + size * 0.35)
    .attr("font-size", size).attr("fill", "#333").text(L), x1 - x0 - 4));
}

// table cells
const HDR = "#c7d9eb", LIGHT = "#e3ecf5", WHITE = "#ffffff";
function cells(xe, ye, list, dsize) {
  const g = svg.append("g");
  list.forEach(c => {
    const x0 = xe[c.c0], x1 = xe[c.c1], y0 = ye[c.r0], y1 = ye[c.r1];
    g.append("rect").attr("x", x0).attr("y", y0).attr("width", x1 - x0).attr("height", y1 - y0)
      .attr("fill", c.fill).attr("stroke", "#fff").attr("stroke-width", 0.6);
    const lines = [].concat(c.t || []);
    if (!lines.length) return;
    const size = c.size || dsize, lh = size * 1.22, n = lines.length, cy = (y0 + y1) / 2;
    if (c.rot) {
      g.append("text").attr("transform", `translate(${(x0 + x1) / 2 + size * 0.35},${cy}) rotate(-90)`)
        .attr("text-anchor", "middle").attr("font-size", size).attr("fill", "#333").text(lines[0]);
      return;
    }
    lines.forEach((L, i) => {
      const anchor = c.align || "middle";
      const xx = anchor === "middle" ? (x0 + x1) / 2 : x0 + 1.8;
      fit(g.append("text").attr("x", xx).attr("y", cy + (i - (n - 1) / 2) * lh + size * 0.35)
        .attr("font-size", size).attr("text-anchor", anchor).attr("font-weight", c.bold ? "bold" : null)
        .attr("fill", c.color || "#222").text(L), x1 - x0 - 2.5);
    });
  });
}

// ---- Table 1
strip(17, 427, 381, 387, t1Title, 3.6);
{
  const xe = edges([43, 75, 72, 76, 72, 72], 17, 427);
  const ye = edges([5, 5, 6, 12, 14.5, 6], 387.5, 436);
  const L = [{ c0: 0, c1: 1, r0: 0, r1: 2, fill: HDR }];
  t1Groups.forEach((g, i) => L.push({ c0: [1, 3, 5][i], c1: [3, 5, 6][i], r0: 0, r1: 1, t: g, bold: true, fill: HDR }));
  t1Cohorts.forEach((c, i) => L.push({ c0: i + 1, c1: i + 2, r0: 1, r1: 2, t: c, bold: true, fill: HDR }));
  const rf = r => (r % 2 ? LIGHT : WHITE);
  t1RowLabels.forEach((lab, r) => L.push({ c0: 0, c1: 1, r0: r + 2, r1: r + 3, t: lab, align: "start", fill: rf(r) }));
  t1NCT.forEach((v, i) => L.push({ c0: [1, 3, 5][i], c1: [3, 5, 6][i], r0: 2, r1: 3, t: v, fill: rf(0) }));
  t1Population.forEach((v, i) => L.push({ c0: [1, 3, 5][i], c1: [3, 5, 6][i], r0: 3, r1: 4, t: v, fill: rf(1) }));
  t1Inclusion.forEach((v, i) => L.push({ c0: i + 1, c1: i + 2, r0: 4, r1: 5, t: v, align: "start", fill: rf(2) }));
  L.push({ c0: 1, c1: 6, r0: 5, r1: 6, t: t1Exclusion, align: "start", fill: rf(3) });
  cells(xe, ye, L, 3.3);
}
notes(17, 427, 436.8, 444.6, t1Notes, 2.3);

// ---- Table 2
strip(432, 758, 106.5, 113.5, t2Title, 3.6);
{
  const xe = edges([55, 26, 167, 22, 28, 28], 432, 758);
  const nl = t2Molecules.map((m, i) => Math.max(m.length, t2MOA[i].length));
  const ye = [114.5, ...edges(nl.map(n => (n === 1 ? 5 : 11.5)), 119.5, 214.5)];
  const L = t2Headers.map((h, i) => ({ c0: i, c1: i + 1, r0: 0, r1: 1, t: h, bold: true, fill: HDR, align: i === 0 ? "start" : "middle" }));
  t2Molecules.forEach((m, i) => {
    const f = i % 2 ? LIGHT : WHITE, r0 = i + 1, r1 = i + 2;
    L.push({ c0: 0, c1: 1, r0, r1, t: m, align: "start", fill: f });
    L.push({ c0: 1, c1: 2, r0, r1, t: t2Targets[i], fill: f });
    L.push({ c0: 2, c1: 3, r0, r1, t: t2MOA[i], align: "start", fill: f });
    [t2PDAC, t2GC, t2CRC].forEach((col, k) => L.push({ c0: 3 + k, c1: 4 + k, r0, r1, t: col[i], fill: f }));
  });
  cells(xe, ye, L, 3.2);
}
notes(432, 758, 215, 221.5, t2Notes, 2.4);

// ---- Table 3
strip(432, 758, 229.5, 235.5, t3Title, 3.6);
{
  const xe = edges([15, 18, 58, 60, 59, 60, 56], 432, 758);
  const cols = [t3PDAC1L, t3PDAC2L, t3GC1L, t3GC2L, t3CRC3L];
  const nl = t3Arms.map((a, i) => d3.max(cols, c => c[i].length));
  const ye = [237.5, 243, ...edges(nl.map(n => 5 + 3.5 * n), 248.5, 355)];
  const L = [{ c0: 0, c1: 2, r0: 0, r1: 2, t: "Arm*", bold: true, fill: HDR }];
  t1Groups.forEach((g, i) => L.push({ c0: [2, 4, 6][i], c1: [4, 6, 7][i], r0: 0, r1: 1, t: g, bold: true, fill: HDR }));
  t1Cohorts.forEach((c, i) => L.push({ c0: i + 2, c1: i + 3, r0: 1, r1: 2, t: c, bold: true, fill: HDR }));
  const groups = [];
  t3Stage.forEach((s, i) => { if (groups.length && groups[groups.length - 1].s === s) groups[groups.length - 1].to = i; else groups.push({ s, from: i, to: i }); });
  groups.forEach(g => L.push({ c0: 0, c1: 1, r0: g.from + 2, r1: g.to + 3, t: g.s, rot: true, fill: "#d6e3f0", size: 3.1 }));
  t3Arms.forEach((a, i) => {
    const f = i % 2 ? LIGHT : WHITE, r0 = i + 2, r1 = i + 3;
    L.push({ c0: 1, c1: 2, r0, r1, t: a === "Control" ? "" : a, fill: f });
    cols.forEach((col, k) => {
      const shaded = k === 2 && col[i].join(" ").includes("mFOLFOX6");
      L.push({ c0: 2 + k, c1: 3 + k, r0, r1, t: col[i], fill: shaded ? "#a7a7a7" : f, color: shaded ? "#fff" : "#222" });
    });
  });
  cells(xe, ye, L, 3.2);
}
notes(432, 758, 356.5, 368, t3Notes, 2.3);

// ---- Figure 1
strip(16, 427, 224.5, 231.5, fig1Title, 3.6);
svg.append("rect").attr("x", 16).attr("y", 231.5).attr("width", 411).attr("height", 60).attr("fill", "#dbe7f2");
svg.append("rect").attr("x", 18).attr("y", 232.5).attr("width", 407).attr("height", 58).attr("fill", "#fff");
notes(16, 427, 291.5, 304.5, fig1Notes, 2.5);
{
  const g = svg.append("g");
  const chev = (x0, x1, y0, y1, tip, notch) => { const m = (y0 + y1) / 2; return `M${x0},${y0}L${x1},${y0}L${x1 + tip},${m}L${x1},${y1}L${x0},${y1}` + (notch ? `L${x0 + tip},${m}` : "") + "Z"; };
  const stX = [[73, 130, 92], [130, 316, 217], [316, 380, 333]];
  fig1Stages.forEach((s, i) => {
    g.append("path").attr("d", chev(stX[i][0], stX[i][1], 238, 244.5, 2.6, i > 0)).attr("fill", "#a6a6a6").attr("stroke", "#fff").attr("stroke-width", 0.5);
    g.append("text").attr("x", stX[i][2]).attr("y", 242.5).attr("text-anchor", "middle").attr("font-size", 3.4).attr("font-weight", "bold").attr("fill", "#fff").text(s);
  });
  const phX = [[171, 217], [217, 263]];
  fig1Phases.forEach((s, i) => {
    g.append("path").attr("d", chev(phX[i][0], phX[i][1], 249, 254.5, 2.2, i > 0)).attr("fill", "#4f9bd8").attr("stroke", "#fff").attr("stroke-width", 0.5);
    g.append("text").attr("x", (phX[i][0] + phX[i][1]) / 2 + 1).attr("y", 252.9).attr("text-anchor", "middle").attr("font-size", 3).attr("fill", "#fff").text(s);
  });
  const ln = "#1e1e1e";
  const paths = ["M142,266.5L146.5,266.5", "M157.5,266.5L161,266.5", "M161,261L161,274.2", "M161,261L171,261", "M161,274.2L171,274.2",
    "M270,261L280,261", "M270,274.2L280,274.2", "M280,261L280,274.2", "M280,266.5L286,266.5", "M312,266.5L321,266.5"];
  paths.forEach(d => g.append("path").attr("d", d).attr("stroke", ln).attr("stroke-width", 0.9).attr("fill", "none"));
  g.append("path").attr("d", "M128,276.5L128,285L300,285L300,278.5").attr("stroke", "#2f4c9f").attr("stroke-width", 0.8)
    .attr("stroke-dasharray", "1.8,1.2").attr("fill", "none");
  g.append("path").attr("d", "M298.4,279.3L300,276.6L301.6,279.3Z").attr("fill", "#2f4c9f");
  const bx = [[73, 257, 30, 19.5, "#5b9bd5"], [113, 257, 29, 19.5, "#2f4c9f"], [171, 257, 99, 15.2, "#17873c"], [171, 272.4, 99, 3.8, "#2f4c9f"],
    [286, 257, 26, 19.5, "#2f4c9f"], [321, 257, 57, 19.5, "#6a2a7d"], [215, 280.2, 64, 9, "#7f7f7f"]];
  fig1Boxes.forEach((lines, i) => {
    const [x, y, w, h, f] = bx[i];
    g.append("rect").attr("x", x).attr("y", y).attr("width", w).attr("height", h).attr("fill", f);
    const fs = i === 3 ? 3 : 3.3, lh = fs * 1.2;
    lines.forEach((L, j) => g.append("text").attr("x", x + w / 2).attr("y", y + h / 2 + (j - (lines.length - 1) / 2) * lh + fs * 0.35)
      .attr("text-anchor", "middle").attr("font-size", fs).attr("font-weight", "bold").attr("fill", "#fff").text(L));
  });
  g.append("circle").attr("cx", 152).attr("cy", 266.5).attr("r", 5.5).attr("fill", "#fff").attr("stroke", ln).attr("stroke-width", 0.9);
  g.append("text").attr("x", 152).attr("y", 267.9).attr("text-anchor", "middle").attr("font-size", 4).attr("font-weight", "bold").text("R");
}

// ---- Figure 2 (map)
strip(768, 1003, 152.5, 159.5, fig2Title, 3.3);
svg.append("rect").attr("x", 768).attr("y", 159.5).attr("width", 235).attr("height", 98.5).attr("fill", "#dbe7f2");
svg.append("rect").attr("x", 770.5).attr("y", 162.5).attr("width", 230).attr("height", 93).attr("fill", "#fff");
{
  defs.append("clipPath").attr("id", "mapclip").append("rect").attr("x", 770.5).attr("y", 162.5).attr("width", 230).attr("height", 93);
  const mx = d3.scaleLinear().domain([-180, 180]).range([882 - 0.441 * 180, 882 + 0.441 * 180]);
  const millerY = lat => 1.25 * Math.log(Math.tan(Math.PI / 4 + 0.4 * lat * Math.PI / 180));
  const my = d3.scaleLinear().domain([0, 1]).range([220.5, 193.5]);
  const line = d3.line()
    .defined(p => Number.isFinite(p[0]) && Number.isFinite(p[1]))
    .x(p => mx(p[0])).y(p => my(millerY(p[1])));
  const enrolled = new Set(t4Countries);
  const shapes = landShapes.map(s => ({
    ...s, hi: enrolled.has(s.country) ? 1 : 0,
    pairs: d3.range(0, s.pts.length - 1, 2).map(k => [s.pts[k], s.pts[k + 1]])
  }));
  shapes.sort((a, b) => a.hi - b.hi);
  svg.append("g").attr("clip-path", "url(#mapclip)").selectAll("path").data(shapes).join("path")
    .attr("d", d => line(d.pairs) + "Z")
    .attr("fill", d => d.water ? "#fff" : d.hi ? "#9b3b72" : "#b5c2dc")
    .attr("stroke", "#fff").attr("stroke-width", d => d.water ? 0 : 0.3).attr("stroke-linejoin", "round");
}

// ---- Table 4
strip(768, 1003, 262.5, 268.5, t4Title, 3.4);
{
  const xe = edges([115, 39, 40, 41], 768, 1003);
  const ye = [270.5, ...edges(t4Countries.map(() => 1), 276.5, 321.5)];
  const L = t4Headers.map((h, i) => ({ c0: i, c1: i + 1, r0: 0, r1: 1, t: h, bold: true, fill: HDR, align: i === 0 ? "start" : "middle" }));
  t4Countries.forEach((c, i) => {
    const f = i % 2 ? LIGHT : WHITE;
    L.push({ c0: 0, c1: 1, r0: i + 1, r1: i + 2, t: c, align: "start", fill: f });
    [t4PDAC, t4GC, t4CRC].forEach((col, k) => L.push({ c0: 1 + k, c1: 2 + k, r0: i + 1, r1: i + 2, t: col[i], fill: f }));
  });
  cells(xe, ye, L, 3.2);
}

// ---- QR code
{
  const xs = d3.scaleBand().domain(d3.range(qrRows.length)).range([977, 1000]);
  const ys = d3.scaleBand().domain(d3.range(qrRows.length)).range([405.5, 428.5]);
  svg.append("rect").attr("x", 975.5).attr("y", 404).attr("width", 26).attr("height", 26).attr("fill", "#fff");
  const mods = [];
  qrRows.forEach((r, i) => r.split("").forEach((ch, j) => { if (ch === "1") mods.push([i, j]); }));
  svg.append("g").selectAll("rect").data(mods).join("rect")
    .attr("x", d => xs(d[1])).attr("y", d => ys(d[0])).attr("width", xs.bandwidth() + 0.05).attr("height", ys.bandwidth() + 0.05).attr("fill", "#111");
  svg.append("g").selectAll("text").data(qrNote).join("text")
    .attr("x", 972).attr("y", (d, i) => 436.5 + i * 2.6).attr("text-anchor", "middle").attr("font-size", 2.05).attr("fill", "#444").text(d => d);
}
</script></body></html>
